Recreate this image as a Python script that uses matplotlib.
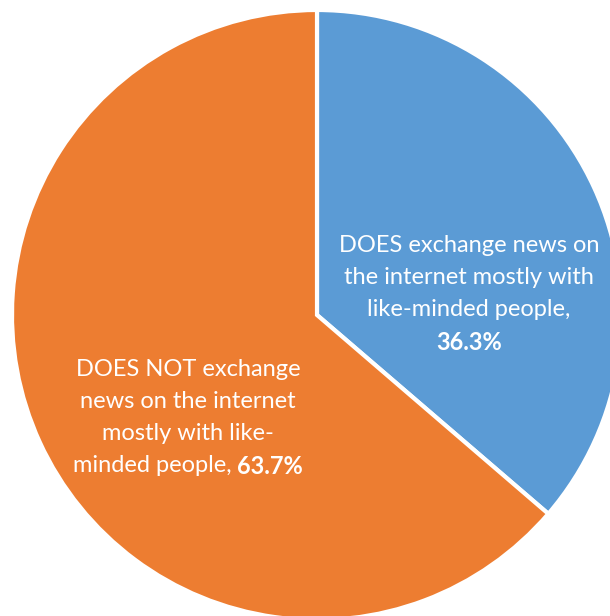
import matplotlib
matplotlib.use("Agg")
import matplotlib.pyplot as plt

categories = ["DOES exchange news on the internet mostly with like-minded people",
              "DOES NOT exchange news on the internet mostly with like-minded people"]
values = [36.3, 63.7]
colors = ["#5B9BD5", "#ED7D31"]

W, H = 610, 616
fig = plt.figure(figsize=(W / 100, H / 100), dpi=100)
ax = fig.add_axes([0, 0, 1, 1])
ax.set_xlim(0, W)
ax.set_ylim(0, H)
ax.set_aspect("equal")
ax.axis("off")

cx, cy, r = 317, H - 315, 305
ax.pie(values, colors=colors, startangle=90, counterclock=False,
       center=(cx, cy), radius=r, frame=True,
       wedgeprops=dict(edgecolor="white", linewidth=3))
ax.set_xlim(0, W)
ax.set_ylim(0, H)
ax.axis("off")

FONT = "Lato"
FS = 17
renderer = fig.canvas.get_renderer()

def mixed_line(x, y, normal, bold):
    t1 = ax.text(0, y, normal, fontsize=FS, family=FONT, color="white",
                 ha="left", va="center")
    t2 = ax.text(0, y, bold, fontsize=FS, family=FONT, color="white",
                 fontweight="bold", ha="left", va="center")
    inv = ax.transData.inverted()
    w1 = inv.transform((t1.get_window_extent(renderer).width, 0))[0] - inv.transform((0, 0))[0]
    w2 = inv.transform((t2.get_window_extent(renderer).width, 0))[0] - inv.transform((0, 0))[0]
    start = x - (w1 + w2) / 2
    t1.set_x(start)
    t2.set_x(start + w1)

def label(x, ys, lines):
    for i, (y, ln) in enumerate(zip(ys, lines)):
        if i == len(lines) - 1:
            normal, bold = ln
            if normal:
                mixed_line(x, H - y, normal, bold)
            else:
                ax.text(x, H - y, bold, fontsize=FS, family=FONT, color="white",
                        fontweight="bold", ha="center", va="center")
        else:
            ax.text(x, H - y, ln, fontsize=FS, family=FONT, color="white",
                    ha="center", va="center")

label(469, [246, 278, 310, 342],
      ["DOES exchange news on", "the internet mostly with", "like-minded people,",
       ("", f"{values[0]:.1f}%")])
label(188, [370, 402, 434, 466],
      ["DOES NOT exchange", "news on the internet", "mostly with like-",
       ("minded people, ", f"{values[1]:.1f}%")])

fig.savefig("out.png", dpi=100)
